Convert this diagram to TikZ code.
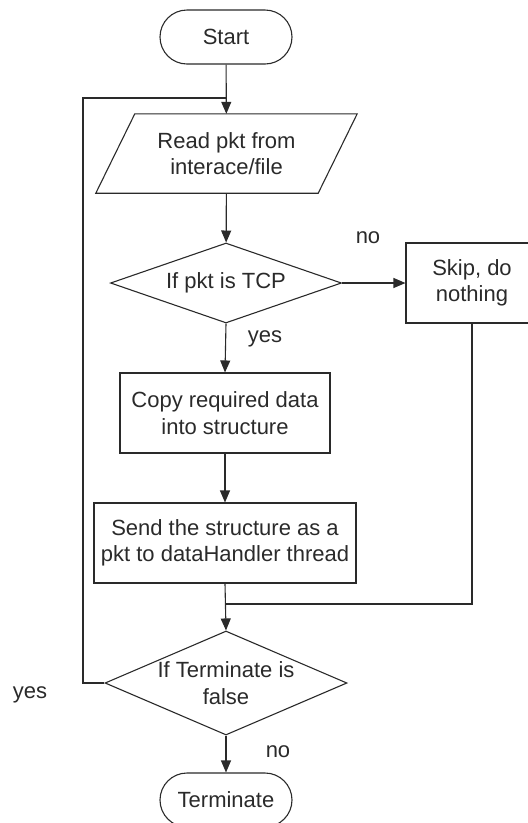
\documentclass[tikz,border=0pt]{standalone}
\usepackage{fontspec}
\setmainfont{Liberation Sans}
\usetikzlibrary{shapes.geometric,arrows.meta}
\definecolor{ink}{HTML}{2A2A2A}
\tikzset{
  x=1pt, y=-1pt,
  every node/.style={font=\fontsize{22}{26.5}\selectfont, text=ink, align=center, inner sep=0pt},
  box/.style={draw=ink, line width=1.1pt, rectangle, minimum height=80pt},
  pill/.style={draw=ink, line width=1.1pt, rectangle, rounded corners=27pt, minimum width=132pt, minimum height=54pt},
  iobox/.style={rectangle, minimum width=261pt, minimum height=79pt},
  decision/.style={draw=ink, line width=1.1pt, diamond},
  link/.style={draw=ink, line width=1.1pt},
  flow/.style={link, -{Triangle[length=12pt,width=10pt]}},
  lbl/.style={font=\fontsize{22}{26.5}\selectfont}
}
\begin{document}
\begin{tikzpicture}
\useasboundingbox (0,0) rectangle (528,823);

% process nodes
\node[pill] (start) at (226,37) {Start};
\node[iobox] (read) at (226.5,153.5) {Read pkt from\\interace/file};
\draw[link] ([xshift=39pt]read.north west) -- (read.north east)
  -- ([xshift=-39pt]read.south east) -- (read.south west) -- cycle;
\node[decision, minimum width=231pt, minimum height=80pt] (tcp) at (226,283) {};
\node (tcptext) at (tcp.center) {If pkt is TCP};
\node[box, minimum width=132pt] (skip) at (472,283) {Skip, do\\nothing};
\node[box, minimum width=210pt] (copy) at (225,413) {Copy required data\\into structure};
\node[box, minimum width=262pt] (send) at (225,543) {Send the structure as a\\pkt to dataHandler thread};
\node[decision, minimum width=242pt, minimum height=104pt] (term) at (226,683) {};
\node (termtext) at (term.center) {If Terminate is\\false};
\node[pill] (stop) at (226,800) {Terminate};

% branch labels
\node[lbl] (lno1) at (368,238) {no};
\node[lbl] (lyes1) at (265,339) {yes};
\node[lbl] (lyes2) at (30,695) {yes};
\node[lbl] (lno2) at (278,752) {no};

% routing points
\coordinate (loopin) at (226,98);
\coordinate (loopcorner1) at (83,683);
\coordinate (loopcorner2) at (83,98);
\coordinate (merge) at (225,604);
\coordinate (skipdown) at (472,604);

% connectors
\draw[flow] (start) -- (read);
\draw[flow] (read) -- (tcp);
\draw[flow] (tcp.east) -- (skip.west);
\draw[flow] (tcp.south) -- (copy.north);
\draw[flow] (copy) -- (send);
\draw[flow] (send.south) -- (term.north);
\draw[flow] (term.south) -- (stop.north);
\draw[link] (skip.south) -- (skipdown) -- (merge);
\draw[link] (term.west) -- (loopcorner1) -- (loopcorner2) -- (loopin);
\end{tikzpicture}
\end{document}
